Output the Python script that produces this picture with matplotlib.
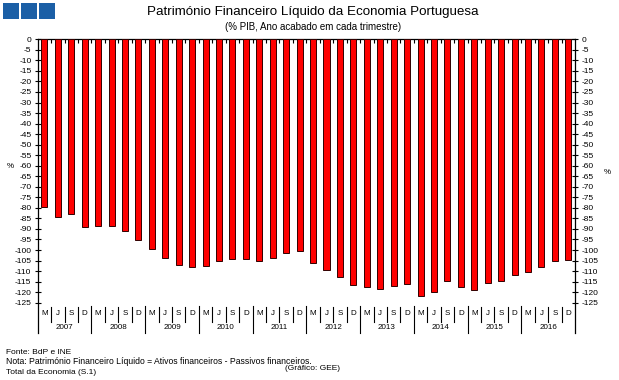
import matplotlib
matplotlib.use("Agg")
import matplotlib.pyplot as plt
from matplotlib.patches import Rectangle

years = ["2007", "2008", "2009", "2010", "2011", "2012", "2013", "2014", "2015", "2016"]
quarters = ["M", "J", "S", "D"]
values = [-79.5, -84.2, -83.1, -88.9, -88.6, -88.4, -91.1, -95.1,
          -99.4, -103.7, -107.0, -107.9, -107.4, -105.1, -104.1, -104.3,
          -105.0, -103.9, -101.6, -100.6, -106.3, -109.6, -113.0, -116.8,
          -117.4, -118.7, -116.9, -116.3, -122.0, -120.1, -114.9, -117.7,
          -119.0, -115.7, -114.9, -112.0, -110.3, -107.9, -105.3, -104.7]
yticks = list(range(0, -130, -5))

plt.rcParams['font.family'] = ['Liberation Sans', 'DejaVu Sans']
W, H = 619, 380
fig = plt.figure(figsize=(W / 100, H / 100), dpi=100)

def fx(px):
    return px / W

def fy(py):
    return 1 - py / H

left, right, top, bottom = 37.7, 575, 39.3, 333
ax = fig.add_axes([fx(left), fy(bottom), fx(right - left), fy(top) - fy(bottom)])
n = len(values)
x = list(range(n))
ax.bar(x, values, width=0.45, color="#FF0000", edgecolor="#300000", linewidth=0.7, zorder=3)
ax.set_xlim(-0.5, n - 0.5)
ybot = -(bottom - top) / 2.107
ax.set_ylim(ybot, 0)

ax.set_yticks(yticks)
ax.set_yticklabels([str(v) for v in yticks])
ax.tick_params(axis='y', which='both', direction='inout', length=5, width=0.8,
               labelsize=6, left=True, right=True, labelleft=True, labelright=True, pad=2)
ax.set_xticks([i + 0.5 for i in range(n - 1)])
ax.set_xticklabels([])
ax.tick_params(axis='x', top=True, bottom=False, direction='in', length=3, width=0.8,
               labeltop=False, labelbottom=False)
for s in ['left', 'right', 'top']:
    ax.spines[s].set_linewidth(0.9)
ax.spines['bottom'].set_visible(False)

# category labels and separators
for i in range(n):
    ax.text(i, -130.3, quarters[i % 4], ha='center', va='center', fontsize=5.8)
    if i > 0:
        if i % 4 == 0:
            ax.plot([i - 0.5, i - 0.5], [-126.5, ybot], color='black', lw=0.8, clip_on=False)
        else:
            ax.plot([i - 0.5, i - 0.5], [-127.0, -134.0], color='black', lw=0.8, clip_on=False)
for k, yr in enumerate(years):
    ax.text(4 * k + 1.5, -136.8, yr, ha='center', va='center', fontsize=5.8)

# titles
fig.text(fx(313), fy(12), "Património Financeiro Líquido da Economia Portuguesa",
         ha='center', va='center', fontsize=9.6)
fig.text(fx(313), fy(27), "(% PIB, Ano acabado em cada trimestre)",
         ha='center', va='center', fontsize=7)

# percent labels
fig.text(fx(10), fy(167), "%", ha='center', va='center', fontsize=5.8)
fig.text(fx(607), fy(172), "%", ha='center', va='center', fontsize=5.8)

# blue squares
for k in range(3):
    fig.patches.append(Rectangle((fx(3 + k * 18), fy(19)), fx(16), fy(3) - fy(19),
                                 transform=fig.transFigure, facecolor="#1B5FA6",
                                 edgecolor='none'))

# footer
fig.text(fx(6), fy(352), "Fonte: BdP e INE", ha='left', va='center', fontsize=6)
fig.text(fx(6), fy(362), "Nota: Património Financeiro Líquido = Ativos financeiros - Passivos financeiros.",
         ha='left', va='center', fontsize=6.2)
fig.text(fx(6), fy(372), "Total da Economia (S.1)", ha='left', va='center', fontsize=6)
fig.text(fx(285), fy(369), "(Gráfico: GEE)", ha='left', va='center', fontsize=6)

fig.savefig("out.png", dpi=100)
